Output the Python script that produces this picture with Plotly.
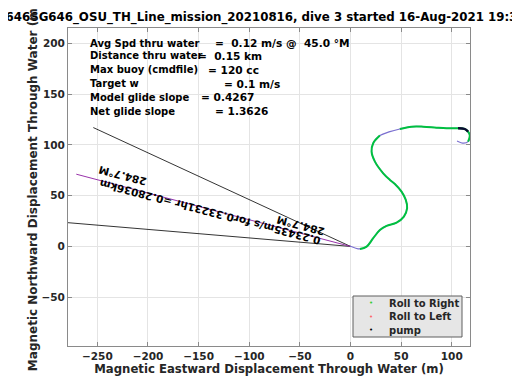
import plotly.graph_objects as go

# ---------------- data ----------------
path_x = [-0.6, 9.3, 15.9, 22.4, 29.0, 35.6, 45.5, 52.7, 55.9, 54.6, 50.4, 43.8, 38.9,
          32.3, 24.1, 20.8, 22.4, 29.0, 38.9, 48.7, 60.3, 71.7, 84.9, 94.8, 106.2,
          112.8, 116.1, 117.8, 116.1, 111.8, 105.2]
path_y = [0.5, -2.5, -0.2, 8.1, 16.2, 20.2, 23.4, 29.3, 37.6, 45.8, 53.9, 61.5, 65.5,
          72.0, 83.5, 93.3, 101.6, 109.1, 113.0, 115.6, 117.9, 117.9, 116.9, 116.3, 116.3,
          115.6, 113.0, 109.1, 103.1, 101.6, 103.8]
# roll-to-right (green) portions of the path, as index ranges
roll_right_ranges = [(1, 17), (19, 28)]
# pump portion
pump_range = (24, 26)

# straight reference lines from the origin (end points)
line1_end = (-254, 117)
line2_end = (-290, 24.3)
heading_end = (-270.8, 71.1)   # 284.7 deg M, 0.28036 km

heading_text = "0.23435m/s for0.33231hr =0.28036km"
heading_label = "284.7°M"
heading_deg = 284.7

info_labels = ["Avg Spd thru water", "Distance thru water", "Max buoy (cmdfile)",
               "Target w", "Model glide slope", "Net glide slope"]
info_values = ["=  0.12 m/s @  45.0 °M", "=  0.15 km", "= 120 cc",
               "= 0.1 m/s", "= 0.4267", "= 1.3626"]

legend_names = ["Roll to Right", "Roll to Left", "pump"]
legend_colors = ["#33cc33", "#ff6666", "#000000"]

title_text = "SG646SG646_OSU_TH_Line_mission_20210816, dive 3 started 16-Aug-2021 19:34:21"
x_title = "Magnetic Eastward Displacement Through Water (m)"
y_title = "Magnetic Northward Displacement Through Water (m)"
x_ticks = [-250, -200, -150, -100, -50, 0, 50, 100]
y_ticks = [-50, 0, 50, 100, 150, 200]

# ---------------- figure ----------------
OFF = 8                      # page body margin
W, H = 520 - OFF, 390 - OFF
L, R, T, B = 68 - OFF, 50, 28 - OFF, 44
PW, PH = W - L - R, H - T - B
xr = [-279, 118]
yr = [-98, 215]
FONT = "DejaVu Sans"
TXT = "#262626"


def pxx(px):
    """page pixel x -> paper x"""
    return (px - OFF - L) / PW


def pxy(py):
    """page pixel y -> paper y"""
    return 1 - (py - OFF - T) / PH


fig = go.Figure()

for (ex, ey) in [line1_end, line2_end]:
    fig.add_trace(go.Scatter(x=[0, ex], y=[0, ey], mode="lines",
                             line=dict(color="#000000", width=0.8),
                             showlegend=False, hoverinfo="skip"))
fig.add_trace(go.Scatter(x=[0, heading_end[0]], y=[0, heading_end[1]], mode="lines",
                         line=dict(color="#9933aa", width=1),
                         showlegend=False, hoverinfo="skip"))

# full path (thin bluish)
fig.add_trace(go.Scatter(x=path_x, y=path_y, mode="lines",
                         line=dict(color="#7a6fd0", width=1.2, shape="spline"),
                         showlegend=False, hoverinfo="skip"))
for a, b in roll_right_ranges:
    fig.add_trace(go.Scatter(x=path_x[a:b + 1], y=path_y[a:b + 1], mode="lines",
                             line=dict(color="#00c040", width=2, shape="spline"),
                             showlegend=False, hoverinfo="skip"))
a, b = pump_range
fig.add_trace(go.Scatter(x=path_x[a:b + 1], y=path_y[a:b + 1], mode="lines",
                         line=dict(color="#0a0a30", width=2.4, shape="spline"),
                         showlegend=False, hoverinfo="skip"))

annotations = []
# rotated heading texts
ang = heading_deg - 90  # screen rotation (upside-down text along the line)
for (ax_, ay_, t) in [(-138.7, 33.7, heading_text), (-49.9, 20.2, heading_label),
                      (-225.7, 69.4, heading_label)]:
    annotations.append(dict(x=ax_, y=ay_, xref="x", yref="y", text=t,
                            showarrow=False, textangle=ang,
                            font=dict(family=FONT, size=10.5, color="#000", weight="bold")))

# info text block
line_y = [43, 56, 70, 84, 97, 111]
val_x = [213, 196, 206, 222, 199, 213]
for lab, val, py, vx in zip(info_labels, info_values, line_y, val_x):
    annotations.append(dict(x=pxx(88), y=pxy(py), xref="paper", yref="paper",
                            text=lab, showarrow=False, xanchor="left", yanchor="middle",
                            font=dict(family=FONT, size=10, color="#000", weight="bold")))
    annotations.append(dict(x=pxx(vx), y=pxy(py), xref="paper", yref="paper",
                            text=val.replace(" ", "\u00a0"), showarrow=False,
                            xanchor="left", yanchor="middle",
                            font=dict(family=FONT, size=10.6, color="#000", weight="bold")))

# legend (drawn as a box with entries)
shapes = [dict(type="rect", xref="paper", yref="paper",
               x0=pxx(353), x1=pxx(462), y0=pxy(337), y1=pxy(296),
               fillcolor="#e6e6e6", line=dict(color="#5f5f5f", width=1), layer="above")]
leg_y = [303.3, 316.5, 330]
for name, col, py in zip(legend_names, legend_colors, leg_y):
    annotations.append(dict(x=pxx(371), y=pxy(py), xref="paper", yref="paper",
                            text="•", showarrow=False, xanchor="center", yanchor="middle",
                            font=dict(family=FONT, size=7, color=col)))
    annotations.append(dict(x=pxx(387), y=pxy(py), xref="paper", yref="paper",
                            text=name, showarrow=False, xanchor="left", yanchor="middle",
                            font=dict(family=FONT, size=10, color=TXT, weight="bold")))

axis_common = dict(showgrid=True, gridcolor="#e4e4e4", gridwidth=1,
                   showline=True, linecolor="#8a8a8a", linewidth=1, mirror="ticks",
                   ticks="inside", ticklen=4, tickcolor="#8a8a8a", zeroline=False,
                   tickfont=dict(family=FONT, size=10.5, color=TXT, weight="bold"))

fig.update_layout(
    width=W, height=H, margin=dict(l=L, r=R, t=T, b=B, autoexpand=False),
    paper_bgcolor="white", plot_bgcolor="white", showlegend=False,
    title=dict(text=title_text, x=(267 - OFF) / W, xref="container", xanchor="center",
               y=1 - (17 - OFF) / H, yref="container", yanchor="middle",
               font=dict(family=FONT, size=11.8, color="#000", weight="bold")),
    xaxis=dict(range=xr, tickvals=x_ticks, **axis_common,
               title=dict(text=x_title, standoff=4,
                          font=dict(family=FONT, size=11.7, color=TXT, weight="bold"))),
    yaxis=dict(range=yr, tickvals=y_ticks, **axis_common,
               title=dict(text=y_title, standoff=1,
                          font=dict(family=FONT, size=12, color=TXT, weight="bold"))),
    annotations=annotations, shapes=shapes,
)

fig.write_html("out.html")
